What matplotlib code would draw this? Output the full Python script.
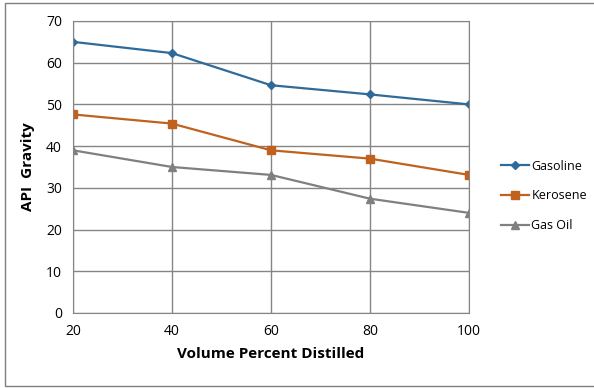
import matplotlib
matplotlib.use("Agg")
import matplotlib.pyplot as plt
from matplotlib.patches import Rectangle

plt.rcParams['font.family'] = ['Open Sans', 'DejaVu Sans']

volume = [20, 40, 60, 80, 100]
gasoline = [65.0, 62.3, 54.6, 52.4, 50.0]
kerosene = [47.6, 45.4, 39.0, 37.0, 33.1]
gas_oil = [39.0, 35.0, 33.1, 27.4, 24.0]
x_ticks = [20, 40, 60, 80, 100]
y_ticks = [0, 10, 20, 30, 40, 50, 60, 70]

fig = plt.figure(figsize=(5.94, 3.88), dpi=100)
fig.patches.append(Rectangle((0.009, 0.006), 0.995, 0.985, transform=fig.transFigure,
                             fill=False, edgecolor='#7f7f7f', linewidth=1.0))
ax = fig.add_axes([0.1229, 0.1933, 0.6667, 0.7526])

ax.plot(volume, gasoline, color='#2f6b9a', marker='D', markersize=4, linewidth=1.6, label='Gasoline')
ax.plot(volume, kerosene, color='#c0621e', marker='s', markersize=6, linewidth=1.6, label='Kerosene')
ax.plot(volume, gas_oil, color='#808080', marker='^', markersize=6, linewidth=1.6, label='Gas Oil')

ax.set_xlim(20, 100)
ax.set_ylim(0, 70)
ax.set_xticks(x_ticks)
ax.set_yticks(y_ticks)
ax.grid(True, color='#858585', linewidth=1.0)
ax.set_axisbelow(True)
for s in ax.spines.values():
    s.set_color('#858585')
ax.tick_params(length=0, labelsize=10, pad=8)
ax.set_xlabel('Volume Percent Distilled', fontsize=11, fontweight='bold', labelpad=6)
ax.set_ylabel('API  Gravity', fontsize=11, fontweight='bold', labelpad=8)

fig.legend(loc='center left', bbox_to_anchor=(0.825, 0.495), frameon=False, fontsize=9,
           handlelength=2.2, labelspacing=1.35, handletextpad=0.2)

fig.savefig('out.png', dpi=100)
